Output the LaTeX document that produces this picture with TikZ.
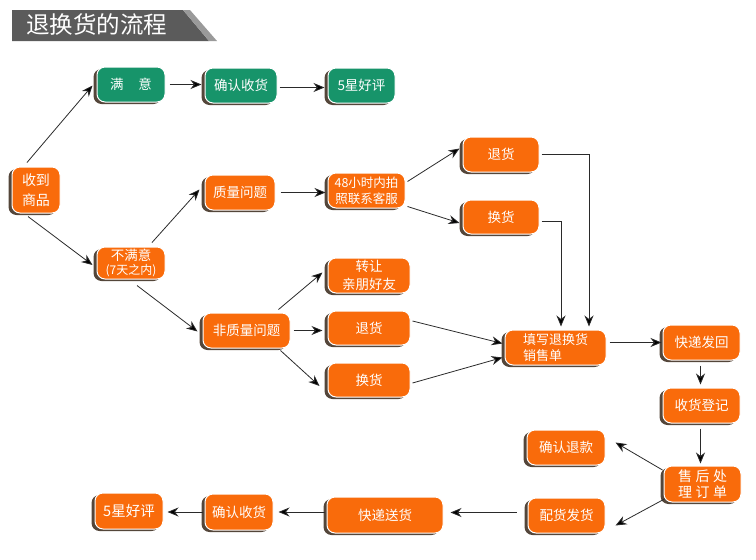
\documentclass[tikz,border=0pt]{standalone}
\usepackage{fontspec}
\setmainfont{Noto Sans CJK SC}
\usetikzlibrary{shadows,arrows.meta,calc}
\definecolor{orangec}{HTML}{F96B0B}
\definecolor{greenc}{HTML}{17946A}
\definecolor{shadowc}{HTML}{54463A}
\definecolor{titlec}{HTML}{5B5B5B}
\definecolor{titlelight}{HTML}{9A9A9A}
\definecolor{linec}{HTML}{2A2A2A}
\tikzset{
  box/.style={rounded corners=8pt, draw=white, line width=1pt, text=white,
    font=\fontsize{13.5}{18}\selectfont, align=center, inner sep=0pt,
    general shadow={fill=shadowc, draw=none, shadow xshift=-3.5pt, shadow yshift=-2pt}},
  ob/.style={box, fill=orangec},
  gb/.style={box, fill=greenc},
  arr/.style={draw=linec, line width=0.8pt, -{Stealth[length=11pt,width=9pt,inset=3.5pt,fill=black]}},
}
\begin{document}
\begin{tikzpicture}[x=1pt,y=-1pt]
\useasboundingbox (0,0) rectangle (756,560);
% title
\fill[titlec] (12,10) -- (183,10) -- (209,41) -- (12,41) -- cycle;
\fill[titlelight] (183,10) -- (190,10) -- (217,41) -- (209,41) -- cycle;
\node[anchor=west, text=white, font=\fontsize{23.5}{26}\selectfont, inner sep=0pt] (title) at (26,25) {退换货的流程};
% boxes
\node[gb, minimum width=68pt, minimum height=35pt] (sat) at (131,84.5) {满\hspace{1.1em}意};
\node[gb, minimum width=72pt, minimum height=35pt] (ok1) at (241,85.5) {确认收货};
\node[gb, minimum width=67pt, minimum height=35pt] (star1) at (361.5,85.5) {5星好评};
\node[ob, minimum width=48pt, minimum height=46pt, font=\fontsize{14}{20}\selectfont] (recv) at (36,190) {收到\\商品};
\node[ob, minimum width=68pt, minimum height=32pt, font=\fontsize{13.5}{14}\selectfont] (unsat) at (131,263) {不满意\\{\fontsize{12}{14}\selectfont(7天之内)}};
\node[ob, minimum width=70pt, minimum height=35pt] (qual) at (240,192.5) {质量问题};
\node[ob, minimum width=77pt, minimum height=35pt, font=\fontsize{12.5}{16}\selectfont] (h48) at (366.5,190.5) {48小时内拍\\照联系客服};
\node[ob, minimum width=76pt, minimum height=35pt] (ret1) at (501,154.5) {退货};
\node[ob, minimum width=76pt, minimum height=34pt] (exc1) at (501,217) {换货};
\node[ob, minimum width=82pt, minimum height=35pt, font=\fontsize{13.5}{18}\selectfont] (give) at (369,275.5) {转让\\亲朋好友};
\node[ob, minimum width=87pt, minimum height=35pt] (nqual) at (246.5,330.5) {非质量问题};
\node[ob, minimum width=82pt, minimum height=34pt] (ret2) at (369,328) {退货};
\node[ob, minimum width=82pt, minimum height=34pt] (exc2) at (369,380) {换货};
\node[ob, minimum width=101pt, minimum height=35pt, align=left, font=\fontsize{13}{16}\selectfont] (fill) at (555.5,347.5) {填写退换货\\销售单};
\node[ob, minimum width=77pt, minimum height=35pt] (back) at (701.5,342.5) {快递发回};
\node[ob, minimum width=77pt, minimum height=35pt] (reg) at (701.5,405.5) {收货登记};
\node[ob, minimum width=77pt, minimum height=36pt, font=\fontsize{14}{16}\selectfont] (after) at (702.5,484) {售\hspace{0.25em}后\hspace{0.25em}处\\理\hspace{0.25em}订\hspace{0.25em}单};
\node[ob, minimum width=78pt, minimum height=35pt] (refund) at (566,447.5) {确认退款};
\node[ob, minimum width=77pt, minimum height=35pt] (ship) at (566.5,515.5) {配货发货};
\node[ob, minimum width=116pt, minimum height=36pt] (deliver) at (385,515) {快递送货};
\node[ob, minimum width=68pt, minimum height=36pt] (ok2) at (239,512) {确认收货};
\node[ob, minimum width=68pt, minimum height=36pt, font=\fontsize{14.5}{18}\selectfont] (star2) at (129,511) {5星好评};
% connectors
\draw[arr] ($(recv.north)+(-9,-4)$) -- ($(sat.west)+(-4,1)$);
\draw[arr] ($(recv.south)+(-8,3)$) -- ($(unsat.west)+(-4,2)$);
\draw[arr] ($(unsat.north)+(21,-4)$) -- ($(qual.west)+(-5,-3)$);
\draw[arr] ($(unsat.south)+(6,6)$) -- ($(nqual.west)+(-5,1)$);
\draw[arr] ($(sat.east)+(4,0)$) -- ($(sat.east -| ok1.west)+(-3,0)$);
\draw[arr] ($(ok1.east)+(2,2)$) -- ($(ok1.east -| star1.west)+(-3,2)$);
\draw[arr] ($(qual.east)+(5,0)$) -- ($(qual.east -| h48.west)+(-2,0)$);
\draw[arr] ($(h48.east)+(2,-9)$) -- ($(ret1.west)+(-3,-6)$);
\draw[arr] ($(h48.east)+(2,16)$) -- ($(exc1.west)+(-3,6)$);
\draw[arr] ($(ret1.east)+(2,0)$) -| ($(fill.north)+(33.5,-3)$);
\draw[arr] ($(exc1.east)+(2,4)$) -| ($(fill.north)+(5.5,-3)$);
\draw[arr] ($(nqual.north east)+(-12,-3)$) -- ($(give.west)+(-5,-3)$);
\draw[arr] ($(nqual.east)+(3,0)$) -- ($(nqual.east -| ret2.west)+(-5,0)$);
\draw[arr] ($(nqual.south east)+(-10,2)$) -- ($(exc2.west)+(-8,6)$);
\draw[arr] ($(ret2.east)+(2,-7)$) -- ($(fill.west)+(-2,-4)$);
\draw[arr] ($(exc2.east)+(2,3)$) -- ($(fill.west)+(-2,10)$);
\draw[arr] ($(back.west -| fill.east)+(3,0)$) -- ($(back.west)+(-1,0)$);
\draw[arr] ($(back.south)+(-1,5)$) -- ($(reg.north)+(-1,-3)$);
\draw[arr] ($(reg.south)+(-1,5)$) -- ($(after.north)+(-2,-2)$);
\draw[arr] ($(after.west)+(-1,-14)$) -- ($(refund.east)+(10,-5)$);
\draw[arr] ($(after.west)+(1,15)$) -- ($(ship.east)+(10,10)$);
\draw[arr] ($(ship.west)+(-11,-3)$) -- ($(ship.west -| deliver.east)+(7,-3)$);
\draw[arr] ($(deliver.west)+(-2,-3)$) -- ($(deliver.west -| ok2.east)+(5,-3)$);
\draw[arr] ($(ok2.west)+(-2,0)$) -- ($(ok2.west -| star2.east)+(4,0)$);
\end{tikzpicture}
\end{document}
